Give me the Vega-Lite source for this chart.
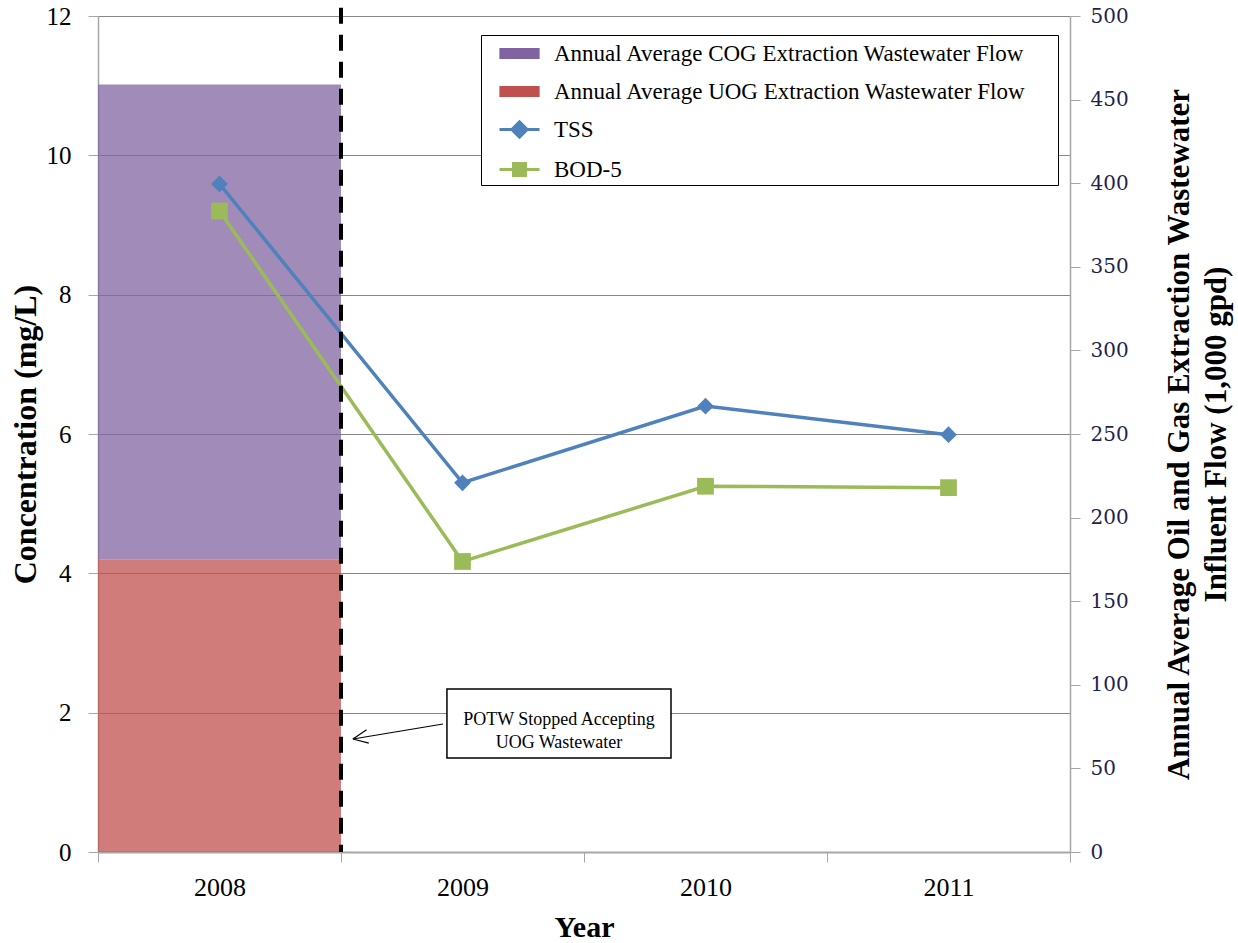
{
  "$schema": "https://vega.github.io/schema/vega-lite/v6.json",
  "width": 972,
  "height": 836,
  "autosize": {"type": "none"},
  "padding": {"left": 98, "top": 16, "right": 168, "bottom": 91},
  "background": "white",
  "config": {"view": {"stroke": null}, "font": "Liberation Serif"},
  "datasets": {
    "flow": [
      {"Year": "2008", "Component": "Annual Average COG Extraction Wastewater Flow", "Flow": 284},
      {"Year": "2008", "Component": "Annual Average UOG Extraction Wastewater Flow", "Flow": 175}
    ],
    "conc": [
      {"Year": "2008", "Parameter": "TSS", "Value": 9.59},
      {"Year": "2009", "Parameter": "TSS", "Value": 5.30},
      {"Year": "2010", "Parameter": "TSS", "Value": 6.40},
      {"Year": "2011", "Parameter": "TSS", "Value": 5.99},
      {"Year": "2008", "Parameter": "BOD-5", "Value": 9.20},
      {"Year": "2009", "Parameter": "BOD-5", "Value": 4.17},
      {"Year": "2010", "Parameter": "BOD-5", "Value": 5.25},
      {"Year": "2011", "Parameter": "BOD-5", "Value": 5.23}
    ]
  },
  "resolve": {"scale": {"x": "independent", "y": "independent"}},
  "layer": [
    {
      "data": {"name": "flow"},
      "mark": {"type": "bar", "fillOpacity": 0.75},
      "encoding": {
        "x": {"field": "Year", "type": "nominal", "scale": {"domain": ["2008", "2009", "2010", "2011"], "paddingInner": 0, "paddingOuter": 0}, "axis": null},
        "y": {
          "field": "Flow", "type": "quantitative", "stack": "zero",
          "scale": {"domain": [0, 500], "nice": false},
          "axis": {
            "orient": "right", "values": [0, 50, 100, 150, 200, 250, 300, 350, 400, 450, 500], "grid": false,
            "domainColor": "#A6A6A6", "domainWidth": 1.5, "tickColor": "#A6A6A6", "tickSize": 10,
            "labelFont": "DejaVu Serif", "labelFontSize": 20, "labelColor": "#1F1F4F", "labelPadding": 10,
            "title": ["Annual Average Oil and Gas Extraction Wastewater", "Influent Flow  (1,000 gpd)"],
            "titleAngle": 270, "titleFont": "Liberation Serif", "titleFontSize": 31, "titleFontWeight": "bold",
            "titleColor": "black", "titlePadding": 30, "titleLineHeight": 37
          }
        },
        "color": {
          "field": "Component", "type": "nominal",
          "scale": {
            "domain": ["Annual Average COG Extraction Wastewater Flow", "Annual Average UOG Extraction Wastewater Flow", "TSS", "BOD-5"],
            "range": ["#8064A2", "#C0504D", "#4F81BD", "#9BBB59"]
          },
          "legend": {
            "title": null, "orient": "none", "legendX": 383, "legendY": 19, "direction": "vertical",
            "strokeColor": "black", "fillColor": "white", "padding": 3,
            "symbolOffset": 20, "symbolSize": 784, "symbolStrokeWidth": 3, "labelOffset": 19, "rowPadding": 10,
            "symbolType": {"expr": "datum.value === 'TSS' ? 'M-1.43,0H1.43M-0.55,0L0,-0.55L0.55,0L0,0.55Z' : datum.value === 'BOD-5' ? 'M-1.43,0H1.43M-0.43,-0.43H0.43V0.43H-0.43Z' : 'M-1.33,-0.28H1.33V0.28H-1.33Z'"},
            "symbolOpacity": {"expr": "datum.value === 'TSS' || datum.value === 'BOD-5' ? 1 : 0.75"},
            "labelFont": "Liberation Serif", "labelFontSize": 23, "labelColor": "black", "labelLimit": 0,
            "labelExpr": "datum.label + '\u00a0\u00a0\u2800'"
          }
        },
        "order": {"field": "Component", "sort": "descending"}
      }
    },
    {
      "data": {"name": "conc"},
      "encoding": {
        "x": {
          "field": "Year", "type": "nominal",
          "scale": {"domain": ["2008", "2009", "2010", "2011"], "paddingInner": 0, "paddingOuter": 0},
          "axis": {
            "tickBand": "extent", "domainColor": "#A6A6A6", "domainWidth": 2, "tickColor": "#A6A6A6", "tickSize": 10,
            "labelAngle": 0, "labelFont": "Liberation Serif", "labelFontSize": 26, "labelColor": "black", "labelPadding": 12,
            "title": "Year", "titleFont": "Liberation Serif", "titleFontSize": 30, "titleFontWeight": "bold", "titleColor": "black", "titlePadding": 12
          }
        },
        "y": {
          "field": "Value", "type": "quantitative",
          "scale": {"domain": [0, 12], "nice": false},
          "axis": {
            "orient": "left", "values": [0, 2, 4, 6, 8, 10, 12], "grid": true, "gridColor": "#868686", "gridWidth": 1,
            "domainColor": "#A6A6A6", "domainWidth": 1.5, "tickColor": "#A6A6A6", "tickSize": 10,
            "labelFont": "Liberation Serif", "labelFontSize": 25, "labelColor": "black", "labelPadding": 17,
            "title": "Concentration (mg/L)", "titleFont": "Liberation Serif", "titleFontSize": 32, "titleFontWeight": "bold",
            "titleColor": "black", "titlePadding": 4
          }
        },
        "color": {"field": "Parameter", "type": "nominal"}
      },
      "layer": [
        {"mark": {"type": "line", "strokeWidth": 3.5}},
        {
          "mark": {"type": "point", "filled": true, "opacity": 1, "size": 280},
          "encoding": {
            "shape": {"field": "Parameter", "type": "nominal", "scale": {"domain": ["TSS", "BOD-5"], "range": ["diamond", "square"]}, "legend": null}
          }
        }
      ]
    },
    {
      "data": {"values": [{}]},
      "layer": [
        {
          "mark": {"type": "rule", "stroke": "black", "strokeWidth": 4, "strokeDash": [16, 11]},
          "encoding": {
            "x": {"datum": 1, "type": "quantitative", "scale": {"domain": [0, 4], "nice": false, "zero": false}, "axis": null},
            "y": {"datum": 12.12, "type": "quantitative", "scale": {"domain": [0, 12], "nice": false}, "axis": null},
            "y2": {"datum": 0}
          }
        },
        {
          "mark": {"type": "rect", "fill": "white", "stroke": "black", "strokeWidth": 1.5},
          "encoding": {
            "x": {"datum": 1.436, "type": "quantitative", "scale": {"domain": [0, 4], "nice": false, "zero": false}, "axis": null},
            "x2": {"datum": 2.358},
            "y": {"datum": 2.34, "type": "quantitative", "scale": {"domain": [0, 12], "nice": false}, "axis": null},
            "y2": {"datum": 1.35}
          }
        },
        {
          "mark": {"type": "text", "text": ["POTW Stopped Accepting", "UOG Wastewater"], "font": "Liberation Serif", "fontSize": 18, "lineHeight": 23, "align": "center", "baseline": "middle", "color": "black"},
          "encoding": {
            "x": {"datum": 1.897, "type": "quantitative", "scale": {"domain": [0, 4], "nice": false, "zero": false}, "axis": null},
            "y": {"datum": 1.9, "type": "quantitative", "scale": {"domain": [0, 12], "nice": false}, "axis": null}
          }
        },
        {
          "mark": {"type": "rule", "stroke": "black", "strokeWidth": 1.2},
          "encoding": {
            "x": {"datum": 1.42, "type": "quantitative", "scale": {"domain": [0, 4], "nice": false, "zero": false}, "axis": null},
            "x2": {"datum": 1.049},
            "y": {"datum": 1.837, "type": "quantitative", "scale": {"domain": [0, 12], "nice": false}, "axis": null},
            "y2": {"datum": 1.622}
          }
        },
        {
          "mark": {"type": "point", "shape": "M0,0L1,-0.45M0,0L1,0.45", "filled": false, "stroke": "black", "strokeWidth": 1.2, "size": 900, "angle": 350.5, "opacity": 1},
          "encoding": {
            "x": {"datum": 1.049, "type": "quantitative", "scale": {"domain": [0, 4], "nice": false, "zero": false}, "axis": null},
            "y": {"datum": 1.622, "type": "quantitative", "scale": {"domain": [0, 12], "nice": false}, "axis": null}
          }
        }
      ]
    }
  ]
}
